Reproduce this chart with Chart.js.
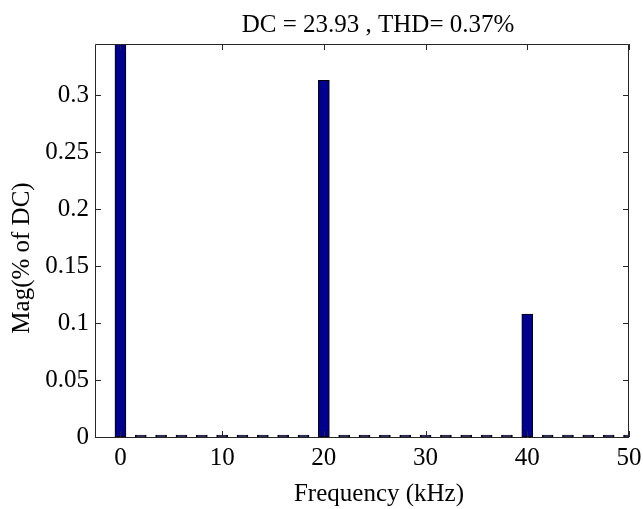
<!DOCTYPE html>
<html>
<head>
<meta charset="utf-8">
<script src="https://cdn.jsdelivr.net/npm/chart.js@4.4.1/dist/chart.umd.min.js"></script>
<style>
  html, body { margin: 0; padding: 0; background: #fff; }
  #wrap { width: 643px; height: 509px; }
</style>
</head>
<body>
<div id="wrap"><canvas id="fft"></canvas></div>
<script>
// harmonic bins (kHz) and magnitude (% of DC)
const freqs = [0, 2, 4, 6, 8, 10, 12, 14, 16, 18, 20, 22, 24, 26, 28, 30, 32, 34, 36, 38, 40, 42, 44, 46, 48, 50];
const mags  = [100, 0, 0, 0, 0, 0, 0, 0, 0, 0, 0.313, 0, 0, 0, 0, 0, 0, 0, 0, 0, 0.108, 0, 0, 0, 0, 0];
const xTicks = [0, 10, 20, 30, 40, 50];
const yTicks = [0, 0.05, 0.1, 0.15, 0.2, 0.25, 0.3];
const titleText = 'DC = 23.93 , THD= 0.37%';
const xLabel = 'Frequency (kHz)';
const yLabel = 'Mag(% of DC)';

const serif = "'Liberation Serif', 'Times New Roman', serif";
const fontSize = 25;

// MATLAB-like box with inward ticks on all four sides, plus title/labels
const boxPlugin = {
    id: 'box',
    afterDatasetsDraw(chart) {
        const { ctx, chartArea: a, scales: { x, y } } = chart;
        const len = 6;
        ctx.save();
        ctx.strokeStyle = '#262626';
        ctx.lineWidth = 1;
        ctx.beginPath();
        ctx.rect(a.left + 0.5, a.top + 0.5, a.right - a.left - 1, a.bottom - a.top);
        xTicks.forEach(v => {
            const px = Math.round(x.getPixelForValue(v)) + 0.5;
            ctx.moveTo(px, a.bottom); ctx.lineTo(px, a.bottom - len);
            ctx.moveTo(px, a.top); ctx.lineTo(px, a.top + len);
        });
        yTicks.forEach(v => {
            const py = Math.round(y.getPixelForValue(v)) + 0.5;
            ctx.moveTo(a.left, py); ctx.lineTo(a.left + len, py);
            ctx.moveTo(a.right, py); ctx.lineTo(a.right - len, py);
        });
        ctx.stroke();
        ctx.restore();
    },
    afterDraw(chart) {
        const ctx = chart.ctx;
        ctx.save();
        ctx.fillStyle = '#000';
        ctx.font = fontSize + 'px ' + serif;
        ctx.textAlign = 'center';
        ctx.textBaseline = 'middle';
        ctx.fillText(titleText, 378, 25);
        ctx.fillText(xLabel, 379, 494);
        ctx.translate(22, 258);
        ctx.rotate(-Math.PI / 2);
        ctx.fillText(yLabel, 0, 0);
        ctx.restore();
    }
};

new Chart(document.getElementById('fft'), {
    type: 'bar',
    data: {
        datasets: [{
            data: freqs.map((f, i) => ({ x: f, y: mags[i] })),
            backgroundColor: '#00008f',
            borderColor: '#000000',
            borderWidth: 1,
            borderSkipped: false,
            barThickness: 11,
            minBarLength: 2
        }]
    },
    options: {
        responsive: true,
        maintainAspectRatio: false,
        animation: false,
        layout: { padding: { left: 0, right: 14, top: 44, bottom: 0 } },
        plugins: {
            legend: { display: false },
            tooltip: { enabled: false },
            title: { display: false }
        },
        scales: {
            x: {
                type: 'linear',
                min: -2.5,
                max: 50,
                offset: false,
                grid: { display: false, drawTicks: false },
                border: { display: false },
                afterBuildTicks: s => { s.ticks = xTicks.map(v => ({ value: v })); },
                afterFit: s => { s.height = 72; s.paddingLeft = 0; s.paddingRight = 0; },
                ticks: {
                    color: '#000',
                    padding: 6,
                    maxRotation: 0,
                    font: { family: serif, size: fontSize },
                    callback: v => String(v)
                }
            },
            y: {
                min: 0,
                max: 0.345,
                grid: { display: false, drawTicks: false },
                border: { display: false },
                afterBuildTicks: s => { s.ticks = yTicks.map(v => ({ value: v })); },
                afterFit: s => { s.width = 95; },
                ticks: {
                    color: '#000',
                    padding: 6,
                    font: { family: serif, size: fontSize },
                    callback: v => String(v)
                }
            }
        }
    },
    plugins: [boxPlugin]
});
</script>
</body>
</html>
